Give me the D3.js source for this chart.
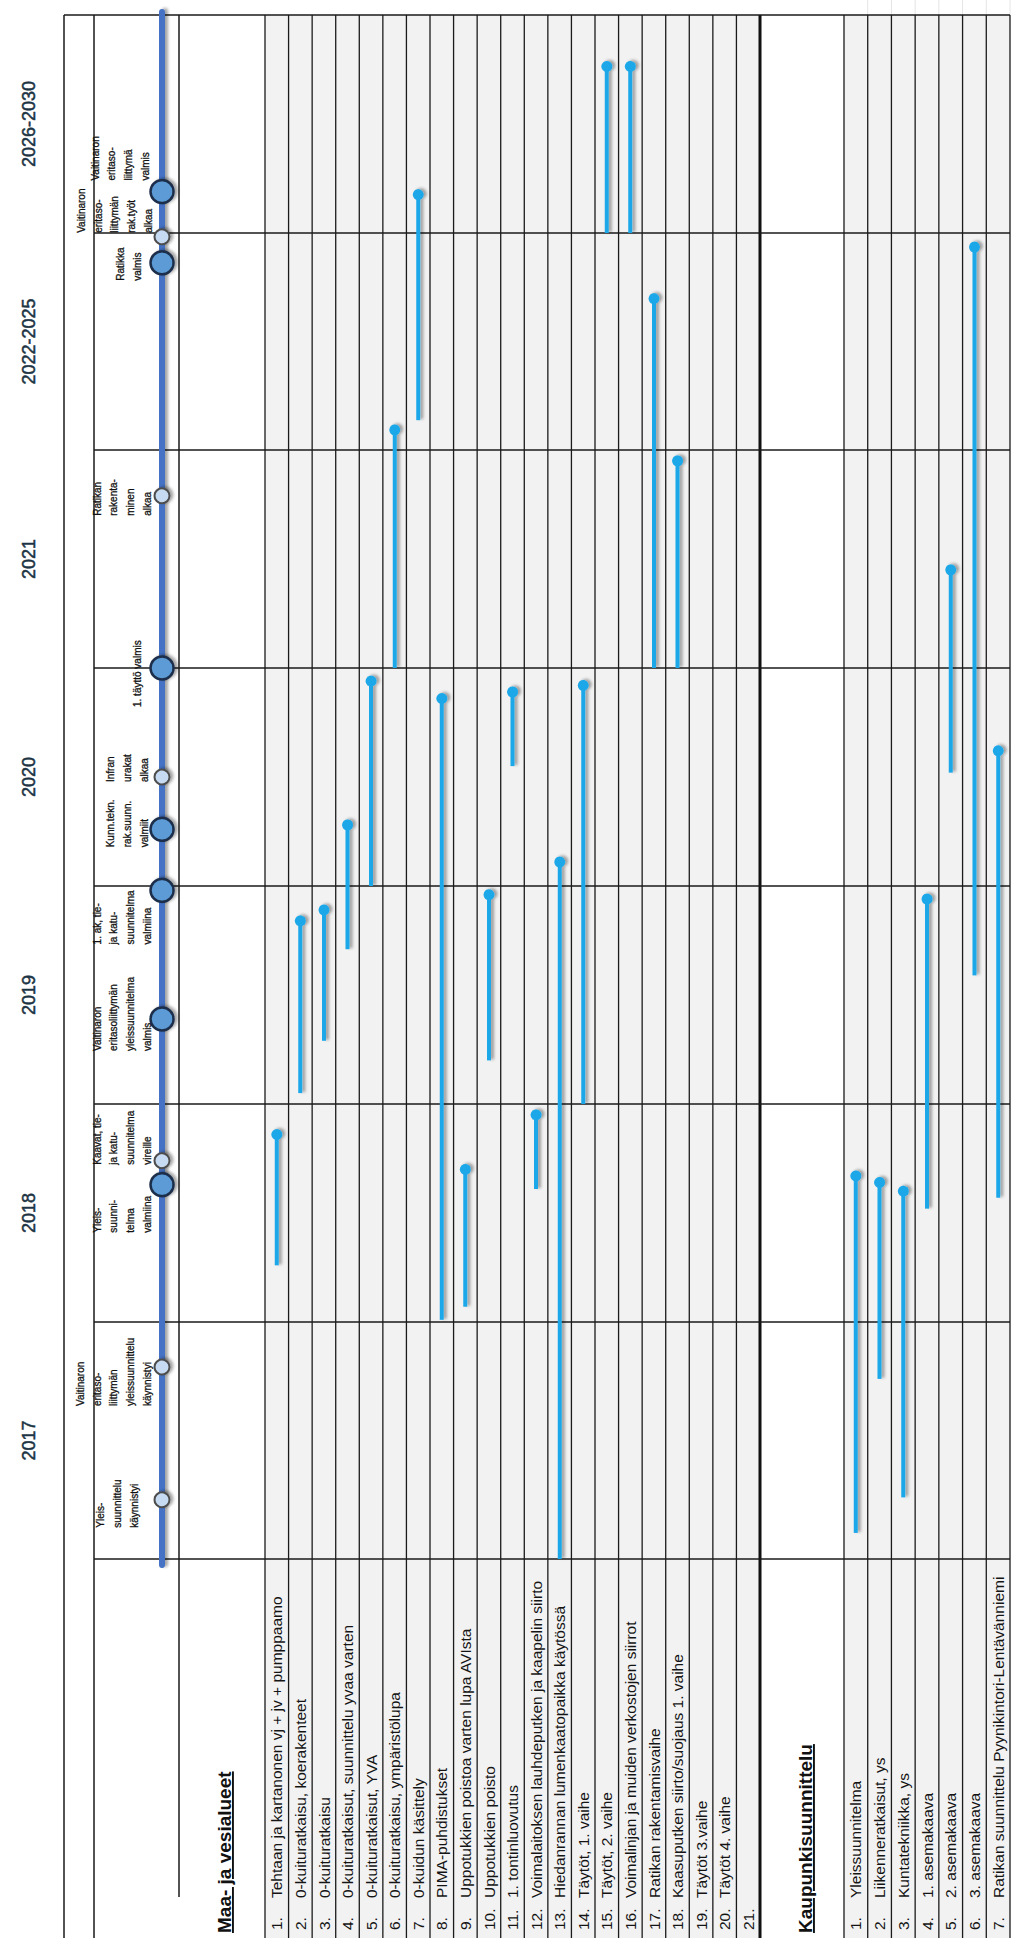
<!DOCTYPE html>
<html>
<head>
<meta charset="utf-8">
<script src="https://cdn.jsdelivr.net/npm/d3@7"></script>
<style>
  body { margin: 0; background: #fff; }
  svg { display: block; }
</style>
</head>
<body>
<svg id="chart"></svg>
<script>
// period headers and their start years (last value = end of 2026-2030)
var periods = ["2017", "2018", "2019", "2020", "2021", "2022-2025", "2026-2030"];
var periodStarts = [2017, 2018, 2019, 2020, 2021, 2022, 2026, 2031];

// milestones on the main timeline
var milestoneLabels = [
  "Yleis-\nsuunnittelu\nkäynnistyi",
  "Vaitinaron\neritaso-\nliittymän\nyleissuunnittelu\nkäynnistyi",
  "Yleis-\nsuunni-\ntelma\nvalmiina",
  "Kaavat, tie-\nja katu-\nsuunnitelma\nvireille",
  "Vaitinaron\neritasoliittymän\nyleissuunnitelma\nvalmis",
  "1. ak, tie-\nja katu-\nsuunnitelma\nvalmiina",
  "Kunn.tekn.\nrak.suunn.\nvalmiit",
  "Infran\nurakat\nalkaa",
  "1. täyttö valmis",
  "Ratikan\nrakenta-\nminen\nalkaa",
  "Ratikka\nvalmis",
  "Vaitinaron\neritaso-\nliittymän\nrak.työt\nalkaa",
  "Vaitinaron\neritaso-\nliittymä\nvalmis"
];
var milestoneDates = [2017.25, 2017.81, 2018.63, 2018.74, 2019.39, 2019.98, 2020.26, 2020.50, 2021.0, 2021.79, 2025.45, 2025.93, 2026.95];
var milestoneDone = [false, false, true, false, true, true, true, false, true, false, true, false, true];

// Maa- ja vesialueet
var landTasks = [
  "Tehtaan ja kartanonen vj + jv + pumppaamo",
  "0-kuituratkaisu, koerakenteet",
  "0-kuituratkaisu",
  "0-kuituratkaisut, suunnittelu yvaa varten",
  "0-kuituratkaisut, YVA",
  "0-kuituratkaisu, ympäristölupa",
  "0-kuidun käsittely",
  "PIMA-puhdistukset",
  "Uppotukkien poistoa varten lupa AVIsta",
  "Uppotukkien poisto",
  "1. tontinluovutus",
  "Voimalaitoksen lauhdeputken ja kaapelin siirto",
  "Hiedanrannan lumenkaatopaikka käytössä",
  "Täytöt, 1. vaihe",
  "Täytöt, 2. vaihe",
  "Voimalinjan ja muiden verkostojen siirrot",
  "Ratikan rakentamisvaihe",
  "Kaasuputken siirto/suojaus 1. vaihe",
  "Täytöt 3.vaihe",
  "Täytöt 4. vaihe",
  ""
];
var landStart = [2018.26, 2019.05, 2019.29, 2019.71, 2020.0, 2021.0, 2022.55, 2018.01, 2018.07, 2019.20, 2020.55, 2018.61, 2017.0, 2019.0, 2026.0, 2026.0, 2021.0, 2021.0, null, null, null];
var landEnd   = [2018.86, 2019.84, 2019.89, 2020.28, 2020.94, 2022.37, 2026.88, 2020.86, 2018.70, 2019.96, 2020.89, 2018.95, 2020.11, 2020.92, 2029.82, 2029.82, 2024.79, 2021.95, null, null, null];

// Kaupunkisuunnittelu
var cityTasks = [
  "Yleissuunnitelma",
  "Liikenneratkaisut, ys",
  "Kuntatekniikka, ys",
  "1. asemakaava",
  "2. asemakaava",
  "3. asemakaava",
  "Ratikan suunnittelu Pyynikintori-Lentävänniemi"
];
var cityStart = [2017.11, 2017.76, 2017.26, 2018.52, 2020.52, 2019.59, 2018.57];
var cityEnd   = [2018.67, 2018.64, 2018.60, 2019.94, 2021.45, 2025.74, 2020.62];

// ---- layout (chart is drawn lying down and turned a quarter left) ----
var pageW = 1024, pageH = 1958;
var font = 'Liberation Sans, Arial, sans-serif';
var svg = d3.select('#chart').attr('width', pageW).attr('height', pageH);
svg.append('rect').attr('width', pageW).attr('height', pageH).attr('fill', '#fff');

var defs = svg.append('defs');
var f = defs.append('filter').attr('id', 'shadow').attr('filterUnits', 'userSpaceOnUse')
  .attr('x', -20).attr('y', -20).attr('width', 2020).attr('height', 1080);
f.append('feDropShadow').attr('dx', 1).attr('dy', 3).attr('stdDeviation', 1.6)
  .attr('flood-color', '#000').attr('flood-opacity', 0.35);

var g = svg.append('g').attr('transform', 'translate(0,' + pageH + ') rotate(-90)');

var periodW = [237, 218, 218, 218, 218, 217, 218];
var edges = [399];
periodW.forEach(function (w, i) { edges.push(edges[i] + w); });
var x = d3.scaleLinear().domain(periodStarts).range(edges);

var landBand = d3.scaleBand().domain(d3.range(landTasks.length)).range([265, 760]);
var cityBand = d3.scaleBand().domain(d3.range(cityTasks.length)).range([844, 1010]);

var bottomU = 20, topU = edges[edges.length - 1];

// grey row backgrounds
[landBand, cityBand].forEach(function (b) {
  g.append('rect').attr('x', bottomU).attr('y', b.range()[0])
    .attr('width', topU - bottomU).attr('height', b.range()[1] - b.range()[0])
    .attr('fill', '#f2f2f2');
});

// row separators
function rowLines(b, n) {
  var vs = d3.range(n + 1).map(function (i) { return b.range()[0] + i * b.step(); });
  g.selectAll(null).data(vs).enter().append('line')
    .attr('x1', bottomU).attr('x2', topU)
    .attr('y1', function (d) { return d; }).attr('y2', function (d) { return d; })
    .attr('stroke', '#1a1a1a').attr('stroke-width', 1.3);
  return vs;
}
rowLines(landBand, landTasks.length);
var cityLines = rowLines(cityBand, cityTasks.length);
// faint stubs above the top border
g.selectAll(null).data(cityLines.slice(1)).enter().append('line')
  .attr('x1', topU).attr('x2', pageH)
  .attr('y1', function (d) { return d; }).attr('y2', function (d) { return d; })
  .attr('stroke', '#e4e4e4').attr('stroke-width', 1);

// thick end of first section
g.append('line').attr('x1', bottomU).attr('x2', topU).attr('y1', 760).attr('y2', 760)
  .attr('stroke', '#111').attr('stroke-width', 3);

// left frame lines
[[64, bottomU], [94, bottomU], [179, 61]].forEach(function (p) {
  g.append('line').attr('x1', p[1]).attr('x2', topU).attr('y1', p[0]).attr('y2', p[0])
    .attr('stroke', '#1a1a1a').attr('stroke-width', 1.5);
});
// top border
g.append('line').attr('x1', topU).attr('x2', topU).attr('y1', 64).attr('y2', 1010)
  .attr('stroke', '#1a1a1a').attr('stroke-width', 1.5);

// period boundaries
g.selectAll(null).data(periodStarts.slice(0, -1)).enter().append('line')
  .attr('x1', function (d) { return x(d); }).attr('x2', function (d) { return x(d); })
  .attr('y1', 94).attr('y2', 1010)
  .attr('stroke', '#1a1a1a').attr('stroke-width', 1.4);

// period headers
g.selectAll(null).data(periods).enter().append('text')
  .attr('x', function (d, i) { return (x(periodStarts[i]) + x(periodStarts[i + 1])) / 2; })
  .attr('y', 34.5)
  .attr('text-anchor', 'middle')
  .attr('font-family', font)
  .attr('font-size', 18).attr('fill', '#1c3444')
  .attr('stroke', '#1c3444').attr('stroke-width', 0.5)
  .text(function (d) { return d; });

// main timeline
var tlV = 162;
g.append('line').attr('x1', x(2017) - 6).attr('x2', topU + 3).attr('y1', tlV).attr('y2', tlV)
  .attr('stroke', '#4472c4').attr('stroke-width', 6).attr('stroke-linecap', 'round')
  .attr('filter', 'url(#shadow)');

// milestone markers
g.selectAll(null).data(milestoneDates).enter().append('circle')
  .attr('cx', function (d) { return x(d); }).attr('cy', tlV)
  .attr('r', function (d, i) { return milestoneDone[i] ? 11.5 : 7.5; })
  .attr('fill', function (d, i) { return milestoneDone[i] ? '#5b9bd5' : '#c6daf2'; })
  .attr('stroke', function (d, i) { return milestoneDone[i] ? '#1c2e4a' : '#4d4d4d'; })
  .attr('stroke-width', function (d, i) { return milestoneDone[i] ? 2.5 : 2; })
  .attr('filter', 'url(#shadow)');

// milestone labels: [offset of text start from marker along time, centre of last line]
var labelLayout = [[-28, 134], [-39, 147], [-48, 147], [-4, 147], [-32, 147], [-54, 147], [-18, 144],
  [-5, 144], [-39, 137], [-20, 147], [-18, 137], [4, 148], [11, 145]];
var lineGap = 16.6;
milestoneLabels.forEach(function (lab, i) {
  var lines = lab.split('\n');
  var u = x(milestoneDates[i]) + labelLayout[i][0];
  var last = labelLayout[i][1];
  var t = g.append('text')
    .attr('text-anchor', 'start')
    .attr('font-family', font)
    .attr('font-size', 10).attr('fill', '#111')
    .attr('stroke', '#111').attr('stroke-width', 0.3);
  lines.forEach(function (ln, k) {
    t.append('tspan').attr('x', u)
      .attr('y', last - (lines.length - 1 - k) * lineGap + 3.6)
      .text(ln);
  });
});

// task bars
function bars(band, starts, ends) {
  var idx = d3.range(starts.length).filter(function (i) { return starts[i] != null; });
  var bg = g.append('g').attr('filter', 'url(#shadow)');
  bg.selectAll(null).data(idx).enter().append('line')
    .attr('x1', function (i) { return x(starts[i]); })
    .attr('x2', function (i) { return x(ends[i]); })
    .attr('y1', function (i) { return band(i) + band.bandwidth() / 2; })
    .attr('y2', function (i) { return band(i) + band.bandwidth() / 2; })
    .attr('stroke', '#1ca8e8').attr('stroke-width', 4);
  bg.selectAll(null).data(idx).enter().append('circle')
    .attr('cx', function (i) { return x(ends[i]); })
    .attr('cy', function (i) { return band(i) + band.bandwidth() / 2; })
    .attr('r', 5.5).attr('fill', '#1ca8e8');
}
bars(landBand, landStart, landEnd);
bars(cityBand, cityStart, cityEnd);

// row labels
function rowLabels(band, names) {
  var lg = g.append('g')
    .attr('font-family', font)
    .attr('font-size', 15.5).attr('fill', '#141414');
  lg.selectAll(null).data(names).enter().append('text')
    .attr('x', 28).attr('y', function (d, i) { return band(i) + band.bandwidth() / 2; })
    .attr('dy', '0.36em')
    .text(function (d, i) { return (i + 1) + '.'; });
  lg.selectAll(null).data(names).enter().append('text')
    .attr('x', 60).attr('y', function (d, i) { return band(i) + band.bandwidth() / 2; })
    .attr('dy', '0.36em')
    .text(function (d) { return d; });
}
rowLabels(landBand, landTasks);
rowLabels(cityBand, cityTasks);

// section headings
[["Maa- ja vesialueet", 231], ["Kaupunkisuunnittelu", 812]].forEach(function (h) {
  g.append('text').attr('x', 25).attr('y', h[1])
    .attr('font-family', font)
    .attr('font-size', 19).attr('font-weight', 'bold').attr('fill', '#111')
    .attr('text-decoration', 'underline')
    .text(h[0]);
});
</script>
</body>
</html>
